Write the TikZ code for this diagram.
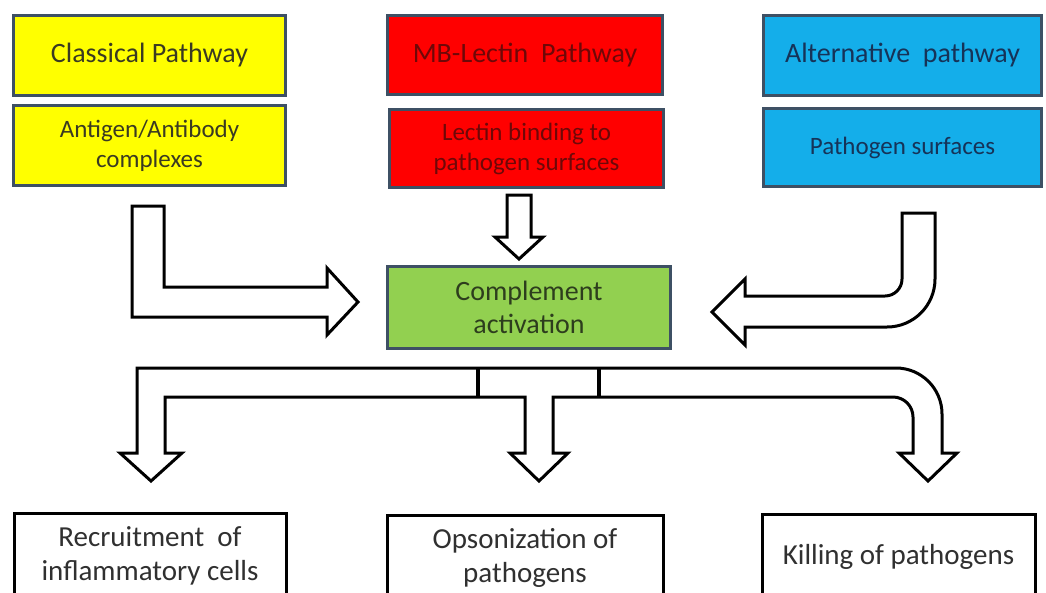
\documentclass[tikz,border=0pt]{standalone}
\usepackage{fontspec}
\setmainfont{Carlito}
\definecolor{bordc}{HTML}{3E5064}
\definecolor{yelfill}{HTML}{FFFF00}
\definecolor{redfill}{HTML}{FF0000}
\definecolor{bluefill}{HTML}{14AEEA}
\definecolor{greenfill}{HTML}{92D050}
\definecolor{yeltext}{HTML}{3A3A22}
\definecolor{redtext}{HTML}{6E0808}
\definecolor{bluetext}{HTML}{163358}
\definecolor{greentext}{HTML}{2D3D1D}
\definecolor{plaintext}{HTML}{303030}
\tikzset{
  pbox/.style={draw=bordc, line width=3pt, align=center, inner sep=0pt},
  bigtext/.style={font=\fontsize{28}{33}\selectfont},
  smalltext/.style={font=\fontsize{25}{30}\selectfont},
  outtext/.style={font=\fontsize{29}{34}\selectfont},
  outbox/.style={draw=black, line width=3pt, fill=white, align=center, inner sep=0pt,
    minimum width=272pt, minimum height=85pt, text=plaintext, outtext},
  blockarrow/.style={draw=black, fill=white, line width=3pt, line join=miter}
}
\begin{document}
\begin{tikzpicture}[x=1pt,y=-1pt]
\fill[white] (0,0) rectangle (1046,592);
\useasboundingbox (0,0) rectangle (1046,592);

% pathway headers and triggers
\node[pbox, fill=yelfill, text=yeltext, bigtext, minimum width=272pt, minimum height=80pt]
  (classical) at (149.5,55.5) {Classical Pathway};
\node[pbox, fill=yelfill, text=yeltext, smalltext, minimum width=272pt, minimum height=80pt]
  (antigen) at (149.5,145.5) {Antigen/Antibody\\complexes};
\node[pbox, fill=redfill, text=redtext, bigtext, minimum width=275pt, minimum height=79pt]
  (mblectin) at (525,55) {MB-Lectin\ \ Pathway};
\node[pbox, fill=redfill, text=redtext, smalltext, minimum width=274pt, minimum height=78pt]
  (lectin) at (526.5,148.5) {Lectin binding to\\pathogen surfaces};
\node[pbox, fill=bluefill, text=bluetext, bigtext, minimum width=278pt, minimum height=80pt]
  (alternative) at (902.5,55.5) {Alternative\ \ pathway};
\node[pbox, fill=bluefill, text=bluetext, smalltext, minimum width=278pt, minimum height=78pt]
  (surfaces) at (902.5,147.5) {Pathogen surfaces};

% central step
\node[pbox, fill=greenfill, text=greentext, bigtext, minimum width=283pt, minimum height=82pt]
  (complement) at (529,307.5) {Complement\\activation};

% outcomes
\node[outbox] (recruit) at (150,556) {Recruitment\ \ of\\inflammatory cells};
\node[outbox, minimum width=276pt] (opson) at (525,558) {Opsonization of\\pathogens};
\node[outbox, minimum width=273pt] (killing) at (898.5,557) {Killing of pathogens};

% classical pathway arrow (bent, pointing right)
\draw[blockarrow] (132,206) -- (164,206) -- (164,287) -- (327,287) -- (327,268)
  -- (358,302) -- (327,335) -- (327,317) -- (132,317) -- cycle;

% lectin pathway arrow (straight down)
\draw[blockarrow] (507,195) -- (531,195) -- (531,237) -- (543,237) -- (519,259)
  -- (495,237) -- (507,237) -- cycle;

% alternative pathway arrow (rounded bend, pointing left)
\draw[blockarrow] (902,213) -- (935,213) -- (935,279)
  .. controls (935,305.5) and (913.5,327) .. (887,327)
  -- (745,327) -- (745,345) -- (712,312) -- (745,279) -- (745,296) -- (885,296)
  .. controls (894.4,296) and (902,288.4) .. (902,279) -- cycle;

% distribution arrow towards the three outcomes
\draw[blockarrow] (137,368) -- (896,368)
  .. controls (921.4,368) and (942,388.6) .. (942,414)
  -- (942,453) -- (957,453) -- (928,481) -- (899,453) -- (913,453) -- (913,417)
  .. controls (913,406) and (904,397) .. (893,397)
  -- (553,397) -- (553,453) -- (568,453) -- (539,481) -- (510,453) -- (525,453)
  -- (525,397) -- (165,397) -- (165,453) -- (182,453) -- (151,481) -- (120,453)
  -- (137,453) -- cycle;
\draw[line width=3.5pt] (478,368) -- (478,397);
\draw[line width=3.5pt] (599,368) -- (599,397);
\end{tikzpicture}
\end{document}
